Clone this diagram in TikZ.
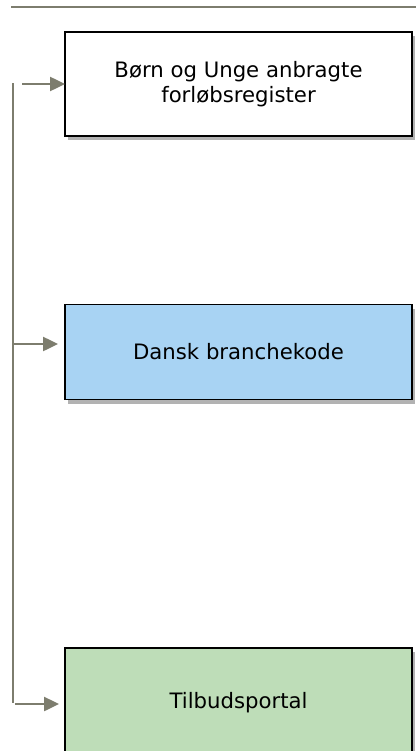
\documentclass[tikz,border=0pt]{standalone}
\usepackage{fontspec}
\setmainfont{DejaVu Sans}
\usetikzlibrary{arrows.meta,shadows}
\definecolor{linegray}{RGB}{125,125,110}
\definecolor{boxblue}{RGB}{168,211,243}
\definecolor{boxgreen}{RGB}{190,221,184}
\tikzset{
  regbox/.style={draw=black, line width=1.8bp, rectangle, align=center,
    font=\fontsize{21.3}{25.2}\selectfont, inner sep=0pt,
    drop shadow={shadow xshift=3bp, shadow yshift=-4bp, fill=black, opacity=0.3}},
  feed/.style={draw=linegray, line width=2.5bp, -{Triangle[length=15bp,width=14bp]}},
  trunk/.style={draw=linegray, line width=1.2bp},
}
\begin{document}
\begin{tikzpicture}[x=1bp,y=-1bp]
\useasboundingbox (0,0) rectangle (416,751);
\fill[white] (0,0) rectangle (416,751);
% top rule
\coordinate (ruleL) at (11,7);
\coordinate (ruleR) at (416,7);
\draw[draw=linegray, line width=2bp] (ruleL) -- (ruleR);
% boxes
\node[regbox, fill=white, minimum width=347bp, minimum height=104bp] (born) at (238.5,84)
  {Børn og Unge anbragte\\forløbsregister};
\node[regbox, fill=boxblue, minimum width=347bp, minimum height=95bp] (dansk) at (238.5,352)
  {Dansk branchekode};
\node[regbox, fill=boxgreen, minimum width=347bp, minimum height=110bp] (tilbud) at (238.5,703)
  {Tilbudsportal};
% trunk
\coordinate (tTop) at (13,83);
\coordinate (tBot) at (13,703);
\draw[trunk] (tTop) -- (tBot);
% feeds
\coordinate (f1) at (22,84);
\coordinate (f1e) at (65,84);
\coordinate (f2) at (13,344);
\coordinate (f2e) at (58,344);
\coordinate (f3) at (15,704);
\coordinate (f3e) at (59,704);
\draw[feed] (f1) -- (f1e);
\draw[feed] (f2) -- (f2e);
\draw[feed] (f3) -- (f3e);
\end{tikzpicture}
\end{document}
